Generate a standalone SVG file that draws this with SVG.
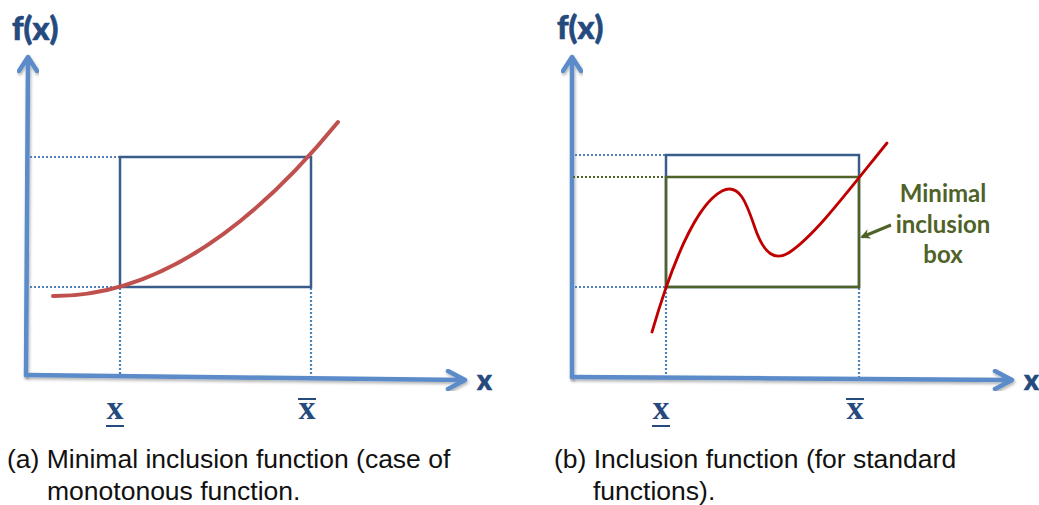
<svg xmlns="http://www.w3.org/2000/svg" width="1039" height="505" viewBox="0 0 1039 505">
<defs>
<filter id="sh" x="-10%" y="-10%" width="120%" height="120%">
<feDropShadow dx="1" dy="2" stdDeviation="1.5" flood-color="#000" flood-opacity="0.3"/>
</filter>
<marker id="garrow" markerWidth="10" markerHeight="10" refX="8" refY="5" orient="auto" markerUnits="userSpaceOnUse">
<path d="M0,0 L10,5 L0,10 L3,5 Z" fill="#4f6228"/>
</marker>
<style>
.axis{fill:none;stroke:#5b8bc9;stroke-width:4.5;stroke-linecap:round;stroke-linejoin:round;filter:url(#sh)}
.dot{fill:none;stroke:#4f81bd;stroke-width:2.2;stroke-dasharray:2 2}
.gdot{fill:none;stroke:#4f6228;stroke-width:2.2;stroke-dasharray:2 2}
.bbox{fill:none;stroke:#385d8a;stroke-width:2.5}
.gbox{fill:none;stroke:#4f6228;stroke-width:2.5}
.lbl{font-family:Lato,"Open Sans",sans-serif;font-weight:900;fill:#244a7e;stroke:#244a7e;stroke-width:0.6}
.ser{font-family:"Liberation Serif",serif;font-weight:bold;font-size:34px;fill:#244a7e;text-anchor:middle}
.bar{stroke:#244a7e;stroke-width:2}
.cap{font-family:"Liberation Sans",Arial,sans-serif;font-size:26.5px;fill:#111}
.gt{font-family:Lato,"Open Sans",sans-serif;font-weight:bold;font-size:24px;fill:#4f6228;text-anchor:middle}
</style>
</defs>
<rect width="1039" height="505" fill="#fff"/>

<g id="panel-a">
<g id="a-axes">
<path class="axis" d="M26,375 L28,58 M19,71 L28,57 L37,71"/>
<path class="axis" d="M26,375 L464,380 M448,371 L465,380 L448,389"/>
<text class="lbl" x="12" y="40" font-size="32">f(x)</text>
<text class="lbl" x="477" y="390" font-size="28">x</text>
</g>
<g id="a-guides">
<path class="dot" d="M30,157 H120 M30,287 H120 M120,288 V375 M311,288 V377"/>
</g>
<g id="a-box">
<rect class="bbox" x="120" y="157" width="191" height="130"/>
</g>
<g id="a-curve">
<path d="M53,296 Q195,297 338,122" fill="none" stroke="#c0504d" stroke-width="4" stroke-linecap="round"/>
</g>
<g id="a-bounds">
<text class="ser" x="115" y="419">x</text>
<line class="bar" x1="106" y1="426" x2="124" y2="426"/>
<text class="ser" x="307" y="419">x</text>
<line class="bar" x1="298" y1="399" x2="316" y2="399"/>
</g>
<g id="a-caption">
<text class="cap" x="7" y="468">(a) Minimal inclusion function (case of</text>
<text class="cap" x="47" y="500">monotonous function.</text>
</g>
</g>

<g id="panel-b">
<g id="b-axes">
<path class="axis" d="M572,377 L572,58 M563,71 L572,57 L581,71"/>
<path class="axis" d="M572,377 L1011,380 M995,371 L1012,380 L995,389"/>
<text class="lbl" x="557" y="39" font-size="32">f(x)</text>
<text class="lbl" x="1024" y="390" font-size="28">x</text>
</g>
<g id="b-guides">
<path class="dot" d="M575,155 H666 M575,287 H666 M666,288 V377 M859,288 V377"/>
<path class="gdot" d="M573,177 H666"/>
</g>
<g id="b-box">
<rect class="bbox" x="666" y="155" width="193" height="132"/>
</g>
<g id="b-minbox">
<rect class="gbox" x="666" y="177" width="193" height="110"/>
</g>
<g id="b-curve">
<path d="M652,332 C670,270 695,205 722,191 C740,182 747,205 755,228 C764,254 775,262 790,252 C815,235 845,195 887,143" fill="none" stroke="#c00000" stroke-width="2.8" stroke-linecap="round"/>
</g>
<g id="b-label">
<text class="gt" x="943" y="202">Minimal</text>
<text class="gt" x="943" y="233">inclusion</text>
<text class="gt" x="943" y="263">box</text>
</g>
<g id="connectors">
<line x1="891" y1="225" x2="862" y2="237" stroke="#4f6228" stroke-width="3" marker-end="url(#garrow)"/>
</g>
<g id="b-bounds">
<text class="ser" x="661" y="419">x</text>
<line class="bar" x1="652" y1="426" x2="670" y2="426"/>
<text class="ser" x="855" y="419">x</text>
<line class="bar" x1="846" y1="399" x2="864" y2="399"/>
</g>
<g id="b-caption">
<text class="cap" x="554" y="468">(b) Inclusion function (for standard</text>
<text class="cap" x="593" y="500">functions).</text>
</g>
</g>
</svg>
